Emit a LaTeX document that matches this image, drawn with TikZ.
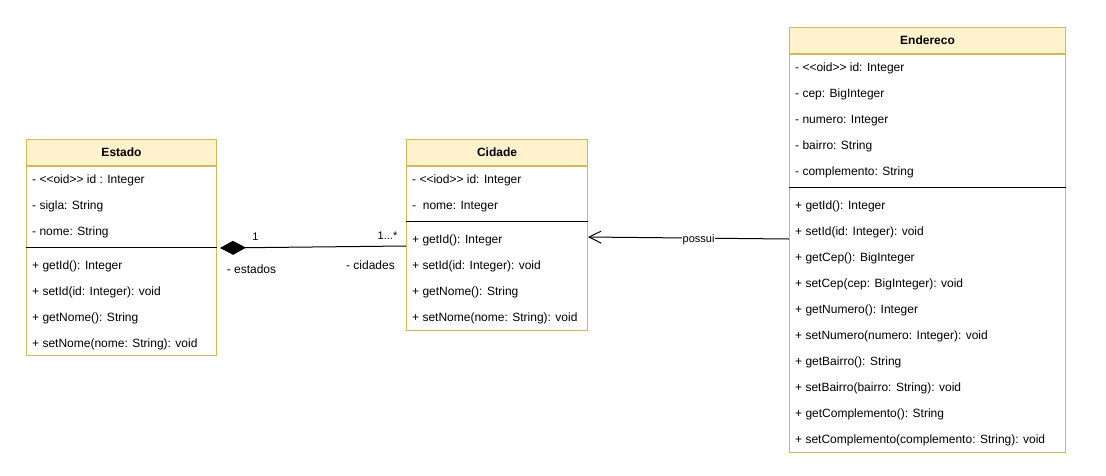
\documentclass[tikz,border=0pt]{standalone}
\usepackage{fontspec}
\setmainfont{Liberation Sans}
\usetikzlibrary{arrows.meta}
\definecolor{umlborder}{HTML}{D6B656}
\definecolor{umlhead}{HTML}{FFF2CC}
\begin{document}
\begin{tikzpicture}[x=1pt,y=-1pt,
    classhead/.style ={draw=umlborder, fill=umlhead, line width=1pt, inner sep=0pt, minimum height=26pt, font=\fontsize{12}{14}\selectfont\bfseries},
    classbody/.style ={draw=umlborder, fill=white, line width=1pt, inner sep=0pt, anchor=north},
    member/.style ={anchor=west, inner sep=0pt, text height=8.6pt, text depth=0pt, font=\fontsize{12}{14}\selectfont},
    divider/.style ={black, line width=1pt},
    mult/.style ={inner sep=0pt, text height=8pt, text depth=0pt, font=\fontsize{11}{13}\selectfont},
    role/.style ={inner sep=0pt, text height=8.6pt, text depth=0pt, font=\fontsize{12}{14}\selectfont},
    composition/.style ={line width=1pt, {Diamond[width=14pt,length=26pt,fill=black]}-, shorten <=3pt},
    association/.style ={line width=1pt, -{Straight Barb[length=12pt,width=12pt]}}]
   \useasboundingbox (0,0) rectangle (1106,475);
   \node[classhead, minimum width=190pt] (estado) at (121.5,152.5) {Estado};
   \node[classbody, minimum width=190pt, minimum height=189pt] (estadobody) at (estado.south) {};
   \draw[divider] (estadobody.west |- 0,247) -- (estadobody.east |- 0,247);
   \foreach \t [count=\i] in {- {<}{<}oid{>}{>} id : Integer, - sigla: String, - nome: String}
     \node[member] (estadoattr\i) at (32,153+26*\i) {\t};
   \foreach \t [count=\i] in {+ getId(): Integer, + setId(id: Integer): void, + getNome(): String, + setNome(nome: String): void}
     \node[member] (estadoop\i) at (32,239+26*\i) {\t};

   \node[classhead, minimum width=181pt] (cidade) at (497,152.5) {Cidade};
   \node[classbody, minimum width=181pt, minimum height=164pt] (cidadebody) at (cidade.south) {};
   \draw[divider] (cidadebody.west |- 0,221) -- (cidadebody.east |- 0,221);
   \foreach \t [count=\i] in {- {<}{<}iod{>}{>} id: Integer, -\ \ nome: Integer}
     \node[member] (cidadeattr\i) at (412,153+26*\i) {\t};
   \foreach \t [count=\i] in {+ getId(): Integer, + setId(id: Integer): void, + getNome(): String, + setNome(nome: String): void}
     \node[member] (cidadeop\i) at (412,213+26*\i) {\t};

   \node[classhead, minimum width=276pt] (endereco) at (927.5,40.5) {Endereco};
   \node[classbody, minimum width=276pt, minimum height=398pt] (enderecobody) at (endereco.south) {};
   \draw[divider] (enderecobody.west |- 0,187) -- (enderecobody.east |- 0,187);
   \foreach \t [count=\i] in {- {<}{<}oid{>}{>} id: Integer, - cep: BigInteger, - numero: Integer, - bairro: String, - complemento: String}
     \node[member] (enderecoattr\i) at (795,41+26*\i) {\t};
   \foreach \t [count=\i] in {+ getId(): Integer, + setId(id: Integer): void, + getCep(): BigInteger, + setCep(cep: BigInteger): void, + getNumero(): Integer, + setNumero(numero: Integer): void, + getBairro(): String, + setBairro(bairro: String): void, + getComplemento(): String, + setComplemento(complemento: String): void}
     \node[member] (enderecoop\i) at (795,179+26*\i) {\t};

   \draw[composition] ([yshift=13pt]estadobody.east) -- ([yshift=2.5pt]cidadebody.west)
     node[mult, pos=0, xshift=38.5pt, yshift=12pt] (estadomult) {1}
     node[role, pos=0, xshift=34.5pt, yshift=-21pt] (estadorole) {- estados}
     node[mult, pos=1, xshift=-18.5pt, yshift=11pt] (cidademult) {1...*}
     node[role, pos=1, xshift=-35.5pt, yshift=-19pt] (cidaderole) {- cidades};
   \draw[association] ([yshift=14.5pt]enderecobody.west) -- ([yshift=11.5pt]cidadebody.east)
     node[mult, pos=0.45, fill=white, inner sep=1pt] (possui) {possui};
\end{tikzpicture}
\end{document}
